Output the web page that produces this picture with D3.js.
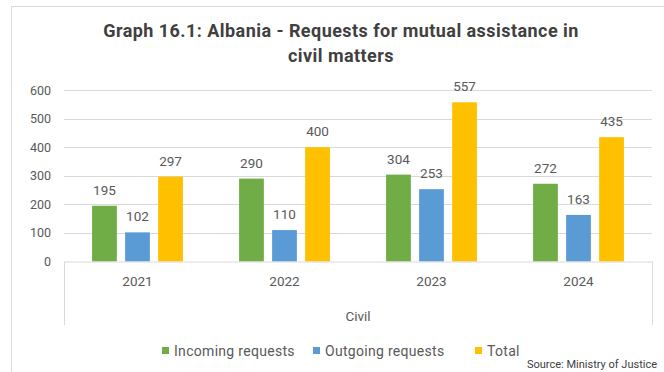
<!DOCTYPE html>
<html>
<head>
<meta charset="utf-8">
<script src="https://cdn.jsdelivr.net/npm/d3@7/dist/d3.min.js"></script>
<style>
  html, body { margin: 0; padding: 0; background: #fff; }
  svg { display: block; font-family: Roboto, "Noto Sans", sans-serif; }
</style>
</head>
<body>
<svg id="chart" width="664" height="372"></svg>
<script>
// Requests for mutual assistance in civil matters, by year
const years = ["2021", "2022", "2023", "2024"];
const seriesNames = ["Incoming requests", "Outgoing requests", "Total"];
const incoming = [195, 290, 304, 272];
const outgoing = [102, 110, 253, 163];
const total = [297, 400, 557, 435];
const yTicks = [0, 100, 200, 300, 400, 500, 600];
const colors = ["#70ad47", "#5b9bd5", "#ffc000"];

const series = [incoming, outgoing, total];

const svg = d3.select("#chart");
const textColor = "#595959";

// outer chart frame
svg.append("rect")
  .attr("x", 11.5).attr("y", 6.5)
  .attr("width", 700).attr("height", 400)
  .attr("fill", "#fff").attr("stroke", "#d9d9d9").attr("stroke-width", 1);

// title
const title = svg.append("text")
  .attr("text-anchor", "middle")
  .attr("fill", "#404040")
  .style("font-size", "18px").style("font-weight", "bold").style("letter-spacing", "0.45px");
title.append("tspan").attr("x", 341).attr("y", 37).text("Graph 16.1: Albania - Requests for mutual assistance in");
title.append("tspan").attr("x", 341).attr("y", 62).text("civil matters");

const plot = { left: 64, right: 652, top: 90, bottom: 261.5 };

const x = d3.scaleBand().domain(years).range([plot.left, plot.right]).paddingInner(0).paddingOuter(0);
const xs = d3.scaleBand().domain(d3.range(seriesNames.length))
  .range([0, x.bandwidth()]).paddingInner(0.25).paddingOuter(0.85);
const y = d3.scaleLinear().domain([0, 600]).range([plot.bottom, plot.top]);

// gridlines
svg.append("g").selectAll("line").data(yTicks.slice(1)).join("line")
  .attr("x1", plot.left).attr("x2", plot.right)
  .attr("y1", d => Math.round(y(d)) + 0.5).attr("y2", d => Math.round(y(d)) + 0.5)
  .attr("stroke", "#d9d9d9").attr("stroke-width", 1);

// y axis labels
const yAxis = d3.axisLeft(y).tickValues(yTicks).tickSize(0).tickPadding(13);
const gy = svg.append("g").attr("transform", `translate(${plot.left},0)`).call(yAxis);
gy.select(".domain").remove();
gy.selectAll("text").attr("fill", textColor).style("font-size", "12.5px").style("font-family", "Roboto, sans-serif");

// bars
const groups = svg.append("g").selectAll("g").data(years).join("g")
  .attr("transform", d => `translate(${x(d)},0)`);
groups.selectAll("rect").data((d, i) => series.map((s, k) => ({ k, v: s[i] }))).join("rect")
  .attr("x", d => xs(d.k)).attr("width", xs.bandwidth())
  .attr("y", d => y(d.v)).attr("height", d => y(0) - y(d.v))
  .attr("fill", d => colors[d.k]);

// value labels
groups.selectAll("text").data((d, i) => series.map((s, k) => ({ k, v: s[i] }))).join("text")
  .attr("x", d => xs(d.k) + xs.bandwidth() / 2)
  .attr("y", d => y(d.v) - 11)
  .attr("text-anchor", "middle").attr("fill", textColor)
  .style("font-size", "13.5px")
  .text(d => d.v);

// category axis: baseline, end dividers, year labels and group label
const xAxis = d3.axisBottom(x).tickSize(0).tickPadding(15);
const gx = svg.append("g").attr("transform", `translate(0,${plot.bottom})`).call(xAxis);
gx.select(".domain").attr("stroke", "#d9d9d9");
gx.selectAll("text").attr("fill", textColor).style("font-size", "13.5px").style("font-family", "Roboto, sans-serif");

svg.append("g").selectAll("line").data([plot.left, plot.right]).join("line")
  .attr("x1", d => d + 0.5).attr("x2", d => d + 0.5)
  .attr("y1", plot.bottom).attr("y2", 325)
  .attr("stroke", "#d9d9d9");

svg.append("text")
  .attr("x", (plot.left + plot.right) / 2).attr("y", 321)
  .attr("text-anchor", "middle").attr("fill", textColor)
  .style("font-size", "13.5px").text("Civil");

// legend
const legendX = [162, 313, 475];
const legend = svg.append("g").selectAll("g").data(seriesNames).join("g")
  .attr("transform", (d, i) => `translate(${legendX[i]},351)`);
legend.append("rect").attr("x", 0).attr("y", -4).attr("width", 7).attr("height", 7)
  .attr("fill", (d, i) => colors[i]);
legend.append("text").attr("x", 12).attr("y", 5)
  .attr("fill", textColor).style("font-size", "14px").style("letter-spacing", "0.3px").text(d => d);

// source note
svg.append("text")
  .attr("x", 657).attr("y", 368).attr("text-anchor", "end")
  .attr("fill", "#404040").style("font-size", "11px")
  .text("Source: Ministry of Justice");
</script>
</body>
</html>
